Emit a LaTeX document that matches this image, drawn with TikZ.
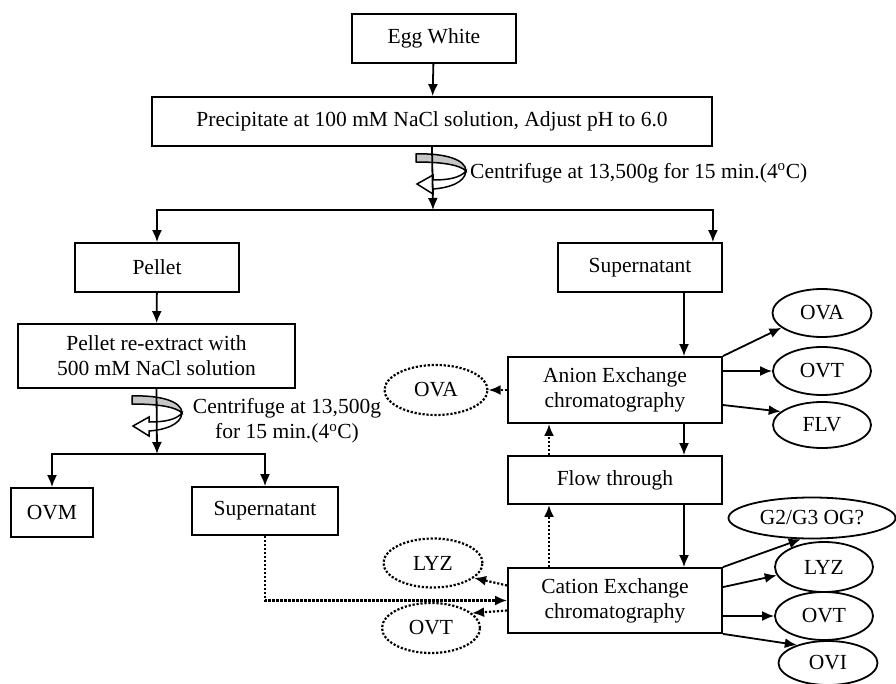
\documentclass[tikz,border=0pt]{standalone}
\usepackage{fontspec}
\setmainfont{Liberation Serif}
\usetikzlibrary{shapes.geometric, arrows.meta, positioning, calc}

% centrifuge mark, #1,#2 = its origin
\newcommand{\spinmark}[2]{%
  \begin{scope}[shift={(#1,#2)}, line width=1.5pt]
    \filldraw[fill=white] (33,1) .. controls (32,13) and (15,18) .. (0,19) -- (0,24) -- (-16,14) -- (0,5) -- (0,10) .. controls (15,10) and (27,8) .. (33,1) -- cycle;
    \filldraw[fill=gray!45] (-17,-16) .. controls (10,-17) and (33,-11) .. (33,1) .. controls (27,-5) and (10,-8) .. (-17,-8) -- cycle;
  \end{scope}}

\begin{document}
\begin{tikzpicture}[x=1pt, y=-1pt, >={Latex[length=12pt,width=10pt]}, line width=1.8pt,
    font=\fontsize{21.5}{25}\selectfont,
    box/.style={draw, rectangle, inner sep=0pt, align=center},
    oval/.style={draw, ellipse, inner sep=0pt},
    dots/.style={line width=2.2pt, dash pattern=on 2.2pt off 1.8pt},
    dotoval/.style={oval, dots}]
    \useasboundingbox (0,0) rectangle (896,684);

    % main column
    \node[box, minimum width=164, minimum height=49] (egg) at (434,38.5) {Egg White};
    \node[box, minimum width=560, minimum height=49] (prec) at (432,121.5) {Precipitate at 100 mM NaCl solution, Adjust pH to 6.0};
    \coordinate (jn) at (433,210);
    \spinmark{433}{170}
    \node[anchor=west] (spintop) at (466,173) {Centrifuge at 13,500g for 15 min.(4\textsuperscript{o}C)};

    % left branch
    \node[box, minimum width=164, minimum height=49] (pellet) at (157,267.5) {Pellet};
    \node[box, minimum width=277, minimum height=64] (reext) at (156.5,356) {Pellet re-extract with\\500 mM NaCl solution};
    \coordinate (jnl) at (157,454);
    \spinmark{149}{412}
    \node[align=center] (spinlow) at (287,421) {Centrifuge at 13,500g\\for 15 min.(4\textsuperscript{o}C)};
    \node[box, minimum width=82, minimum height=49] (ovm) at (52,512.5) {OVM};
    \node[box, minimum width=146, minimum height=48] (supl) at (265,511) {Supernatant};

    % right branch
    \node[box, minimum width=164, minimum height=49] (supr) at (640,267.5) {Supernatant};
    \node[box, minimum width=214, minimum height=66] (anion) at (615,390) {Anion Exchange\\chromatography};
    \node[box, minimum width=214, minimum height=48] (flow) at (615,480) {Flow through};
    \node[box, minimum width=214, minimum height=65] (cation) at (615,600.5) {Cation Exchange\\chromatography};
    \coordinate (rx) at (684,0);
    \coordinate (lx) at (549,0);

    % fractions
    \node[oval, minimum width=99, minimum height=48] (ovaR) at (822,313) {OVA};
    \node[oval, minimum width=98, minimum height=48] (ovtR) at (822,371) {OVT};
    \node[oval, minimum width=98, minimum height=46] (flv) at (822,425) {FLV};
    \node[oval, minimum width=167, minimum height=41] (g2) at (812,518) {G2/G3 OG?};
    \node[oval, minimum width=98, minimum height=50] (lyzR) at (824,567) {LYZ};
    \node[oval, minimum width=98, minimum height=48] (ovtR2) at (824,616) {OVT};
    \node[oval, minimum width=99, minimum height=44] (ovi) at (828,663) {OVI};
    \node[dotoval, minimum width=103, minimum height=50] (ovaD) at (436,390) {OVA};
    \node[dotoval, minimum width=99, minimum height=49] (lyzD) at (433,563) {LYZ};
    \node[dotoval, minimum width=98, minimum height=50] (ovtD) at (431,628) {OVT};

    \draw[->] (egg) -- (prec);
    \draw[->] (prec.south) -- (jn);
    \draw[->] (jn) -| (pellet.north);
    \draw[->] (jn) -| ($(supr.north east)+(-10,0)$);
    \draw[->] (pellet) -- (reext);
    \draw[->] (reext.south) -- (jnl);
    \draw[->] (jnl) -| (ovm.north);
    \draw[->] (jnl) -| (supl.north);
    \draw[->, dots] (supl.south) |- (cation.west);

    \draw[->] (supr.south -| rx) -- (anion.north -| rx);
    \draw[->] (anion.south -| rx) -- (flow.north -| rx);
    \draw[->] (flow.south -| rx) -- (cation.north -| rx);
    \draw[->, dots] (cation.north -| lx) -- (flow.south -| lx);
    \draw[->, dots] (flow.north -| lx) -- (anion.south -| lx);

    \draw[->, dots] (anion.west) -- (ovaD.east);
    \draw[->, dots] ($(cation.west)+(0,-15)$) -- (lyzD.-20);
    \draw[->, dots] ($(cation.west)+(0,10)$) -- (ovtD.20);

    \draw[->] (anion.north east) -- (ovaR.200);
    \draw[->] (anion.east |- ovtR.west) -- (ovtR.west);
    \draw[->] ($(anion.east)+(0,15)$) -- (flv.162);
    \draw[->] (cation.north east) -- (g2.242);
    \draw[->] ($(cation.north east)+(0,20)$) -- (lyzR.190);
    \draw[->] (cation.east |- ovtR2.west) -- (ovtR2.west);
    \draw[->] (cation.south east) -- (ovi.150);
\end{tikzpicture}
\end{document}
